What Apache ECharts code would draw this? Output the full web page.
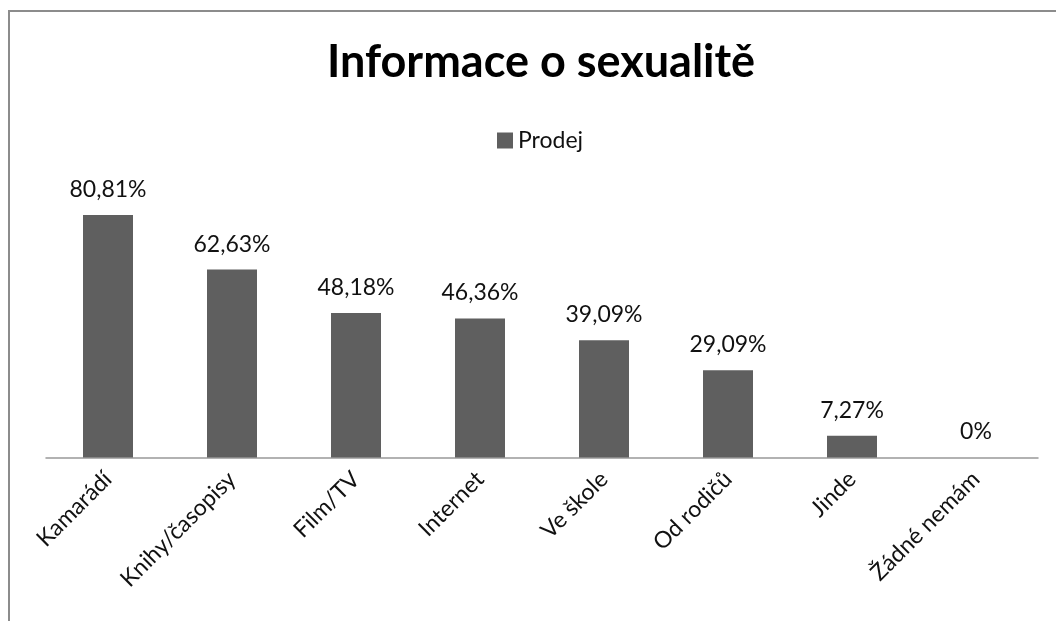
<!DOCTYPE html>
<html>
<head>
<meta charset="utf-8">
<script src="https://cdn.jsdelivr.net/npm/echarts@6/dist/echarts.min.js"></script>
<style>
    html, body { margin: 0; padding: 0; background: #fff; }
    #chart { width: 1056px; height: 621px; }
</style>
</head>
<body>
<div id="chart"></div>
<script>
// kategorie a hodnoty (procenta)
const categories = ['Kamarádí', 'Knihy/časopisy', 'Film/TV', 'Internet', 'Ve škole', 'Od rodičů', 'Jinde', 'Žádné nemám'];
const values = [80.81, 62.63, 48.18, 46.36, 39.09, 29.09, 7.27, 0];
const seriesName = 'Prodej';

function fmtPct(v) {
    return v === 0 ? '0%' : v.toFixed(2).replace('.', ',') + '%';
}

const chart = echarts.init(document.getElementById('chart'));
chart.setOption({
    animation: false,
    textStyle: { fontFamily: 'Lato' },
    title: {
        text: 'Informace o sexualitě',
        left: 322,
        top: 35,
        textStyle: { fontFamily: 'Lato', fontSize: 45, fontWeight: 'bold', color: '#000' }
    },
    legend: {
        data: [seriesName],
        left: 492,
        top: 124,
        itemWidth: 16,
        itemHeight: 16,
        itemGap: 5,
        icon: 'rect',
        textStyle: { fontFamily: 'Lato', fontSize: 23, color: '#111' }
    },
    graphic: [{
        type: 'rect',
        shape: { x: 9, y: 11, width: 1100, height: 700 },
        style: { fill: 'none', stroke: '#8c8c8c', lineWidth: 2 },
        silent: true
    }],
    grid: { left: 46, right: 18, top: 157.5, bottom: 163.5 },
    xAxis: {
        type: 'category',
        data: categories,
        axisLine: { lineStyle: { color: '#999', width: 1.5 } },
        axisTick: { show: false },
        axisLabel: {
            rotate: 45,
            interval: 0,
            margin: 18,
            fontFamily: 'Lato',
            fontSize: 23,
            color: '#111'
        }
    },
    yAxis: {
        type: 'value',
        min: 0,
        max: 100,
        show: false
    },
    series: [{
        name: seriesName,
        type: 'bar',
        data: values,
        barWidth: 50,
        itemStyle: { color: '#5f5f5f' },
        label: {
            show: true,
            position: 'top',
            distance: 14,
            fontFamily: 'Lato',
            fontSize: 23,
            color: '#111',
            formatter: p => fmtPct(p.value)
        }
    }]
});
</script>
</body>
</html>
